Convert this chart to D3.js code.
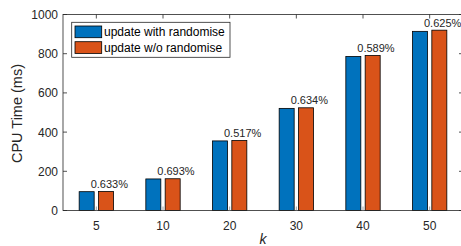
<!DOCTYPE html>
<html>
<head>
  <meta charset="UTF-8">
  <title>CPU Time vs k</title>
  <script src="https://d3js.org/d3.v7.min.js"></script>
  <style>
    body { margin: 0; background: #fff; }
    text { font-family: "Liberation Sans", Arial, sans-serif; fill: #262626; }
    .tick-label { font-size: 12px; }
    .pct { font-size: 11px; }
    .legend-text { font-size: 12px; fill: #000; }
  </style>
</head>
<body>
  <svg width="461" height="246"></svg>

  <script>
    const categories = ["5", "10", "20", "30", "40", "50"];
    const withRandomise = [96, 161, 355, 521, 786, 914];
    const withoutRandomise = [97, 162, 357, 524, 791, 920];
    const pctLabels = ["0.633%", "0.693%", "0.517%", "0.634%", "0.589%", "0.625%"];
    const yTicks = [0, 200, 400, 600, 800, 1000];
    const seriesNames = ["update with randomise", "update w/o randomise"];
    const colors = ["#0072BD", "#D95319"];

    const svg = d3.select("svg");
    const plotL = 63, plotR = 463, plotT = 14.5, plotB = 210.5;

    // MATLAB style: categories at 1..n, xlim [0.5, n+0.5]
    const x = d3.scaleLinear()
      .domain([0.5, categories.length + 0.5])
      .range([plotL, plotR]);

    const y = d3.scaleLinear()
      .domain([0, 1000])
      .range([plotB, plotT]);

    const unit = x(2) - x(1);
    const barW = 0.225 * unit;
    const offset = 0.145 * unit;

    const series = [withRandomise, withoutRandomise];

    series.forEach((vals, s) => {
      svg.append("g").selectAll("rect")
        .data(vals)
        .enter().append("rect")
        .attr("x", (d, i) => x(i + 1) + (s === 0 ? -offset : offset) - barW / 2)
        .attr("y", d => y(d))
        .attr("width", barW)
        .attr("height", d => y(0) - y(d))
        .attr("fill", colors[s])
        .attr("stroke", "#000")
        .attr("stroke-width", 0.8);
    });

    // percentage labels above each group
    svg.append("g").selectAll("text")
      .data(pctLabels)
      .enter().append("text")
      .attr("class", "pct")
      .attr("x", (d, i) => x(i + 1) - 0.085 * unit)
      .attr("y", (d, i) => y(withoutRandomise[i]) - 3.5)
      .text(d => d);

    // axes box
    const axisColor = "#262626";
    svg.append("rect")
      .attr("x", plotL).attr("y", plotT)
      .attr("width", plotR - plotL).attr("height", plotB - plotT)
      .attr("fill", "none")
      .attr("stroke", axisColor)
      .attr("stroke-width", 0.8);

    // y ticks (inward, both sides)
    yTicks.forEach(t => {
      svg.append("line")
        .attr("x1", plotL).attr("x2", plotL + 4)
        .attr("y1", y(t)).attr("y2", y(t))
        .attr("stroke", axisColor).attr("stroke-width", 0.8);
      svg.append("line")
        .attr("x1", plotR).attr("x2", plotR - 4)
        .attr("y1", y(t)).attr("y2", y(t))
        .attr("stroke", axisColor).attr("stroke-width", 0.8);
      svg.append("text")
        .attr("class", "tick-label")
        .attr("x", plotL - 5)
        .attr("y", y(t) + 4.5)
        .attr("text-anchor", "end")
        .text(t);
    });

    // x ticks (inward, top and bottom)
    categories.forEach((c, i) => {
      const cx = x(i + 1);
      svg.append("line")
        .attr("x1", cx).attr("x2", cx)
        .attr("y1", plotB).attr("y2", plotB - 4)
        .attr("stroke", "#888").attr("stroke-width", 0.8);
      svg.append("line")
        .attr("x1", cx).attr("x2", cx)
        .attr("y1", plotT).attr("y2", plotT + 4)
        .attr("stroke", axisColor).attr("stroke-width", 0.8);
      svg.append("text")
        .attr("class", "tick-label")
        .attr("x", cx)
        .attr("y", plotB + 19.5)
        .attr("text-anchor", "middle")
        .text(c);
    });

    // axis labels
    svg.append("text")
      .attr("transform", `translate(22, ${(plotT + plotB) / 2 + 1}) rotate(-90)`)
      .attr("text-anchor", "middle")
      .attr("font-size", 14.5)
      .text("CPU Time (ms)");

    svg.append("text")
      .attr("x", (plotL + plotR) / 2)
      .attr("y", 244)
      .attr("text-anchor", "middle")
      .attr("font-size", 14)
      .attr("font-style", "italic")
      .text("k");

    // legend
    const lg = svg.append("g");
    lg.append("rect")
      .attr("x", 71.7).attr("y", 22.3)
      .attr("width", 158.3).attr("height", 35)
      .attr("fill", "#fff")
      .attr("stroke", "#262626")
      .attr("stroke-width", 0.8);
    seriesNames.forEach((name, s) => {
      const ry = 26 + s * 15.7;
      lg.append("rect")
        .attr("x", 75).attr("y", ry)
        .attr("width", 26.7).attr("height", 11.7)
        .attr("fill", colors[s])
        .attr("stroke", "#000")
        .attr("stroke-width", 0.8);
      lg.append("text")
        .attr("class", "legend-text")
        .attr("x", 104)
        .attr("y", ry + 10)
        .text(name);
    });
  </script>
</body>
</html>
